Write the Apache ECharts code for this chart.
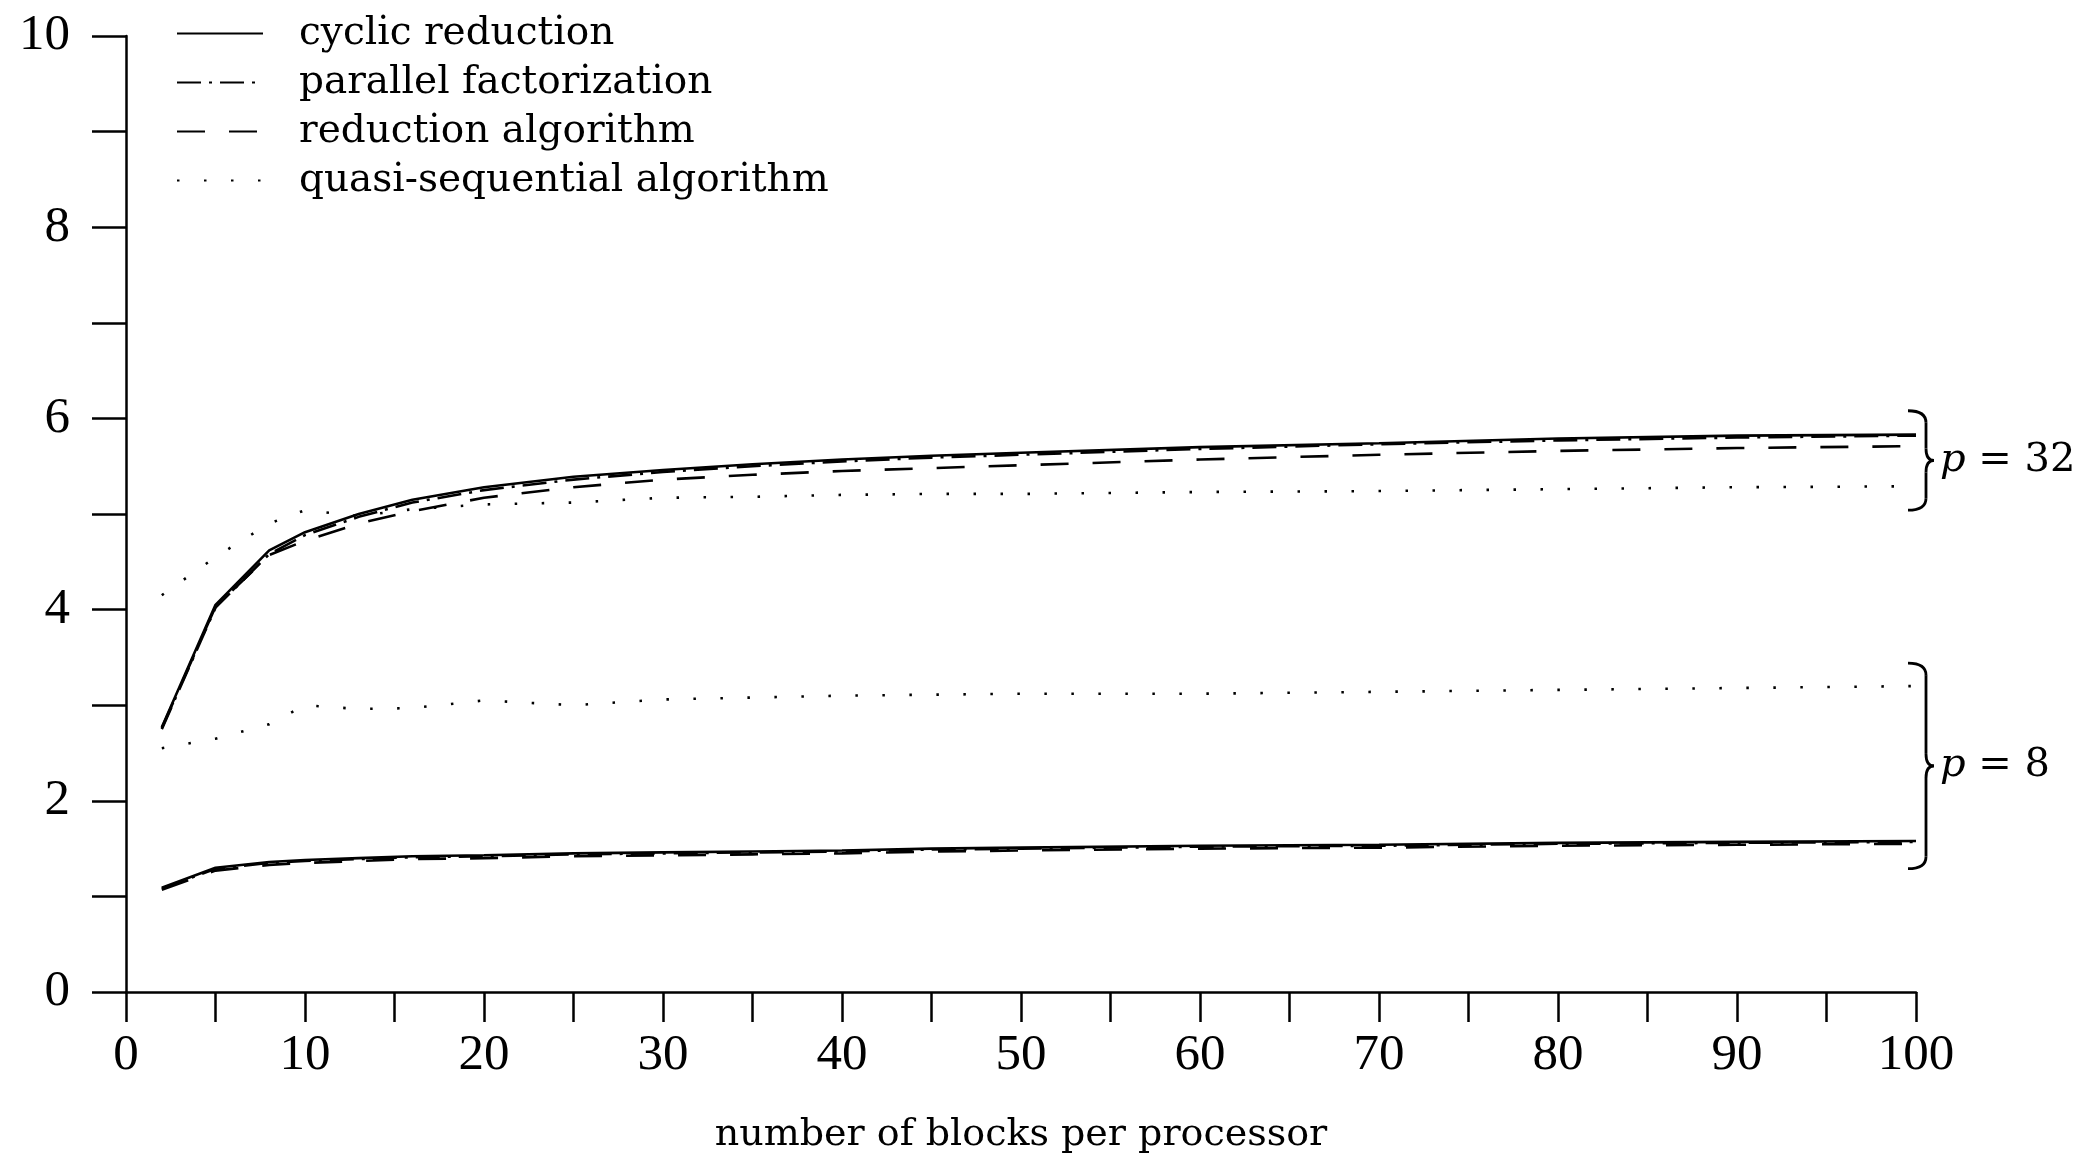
<!DOCTYPE html>
<html>
<head>
<meta charset="utf-8">
<script src="https://cdn.jsdelivr.net/npm/echarts@6/dist/echarts.min.js"></script>
<style>
  html, body { margin: 0; padding: 0; background: #fff; }
  #chart { width: 2079px; height: 1166px; }
</style>
</head>
<body>
<div id="chart"></div>
<script>
// blocks per processor (x positions of the samples)
const blocks = [2, 5, 8, 10, 13, 16, 20, 25, 30, 35, 40, 45, 50, 60, 70, 80, 90, 100];

// p = 32
const cyclic32    = [2.77, 4.05, 4.62, 4.81, 5.00, 5.15, 5.28, 5.39, 5.46, 5.52, 5.57, 5.61, 5.64, 5.70, 5.74, 5.79, 5.82, 5.83];
const parallel32  = [2.75, 4.02, 4.58, 4.78, 4.97, 5.12, 5.25, 5.36, 5.44, 5.50, 5.55, 5.59, 5.62, 5.68, 5.73, 5.77, 5.80, 5.82];
const reduction32 = [2.76, 4.03, 4.57, 4.72, 4.90, 5.03, 5.17, 5.28, 5.36, 5.41, 5.45, 5.48, 5.51, 5.57, 5.62, 5.66, 5.69, 5.71];
const quasi32     = [4.15, 4.55, 4.90, 5.04, 4.98, 5.05, 5.10, 5.12, 5.17, 5.18, 5.20, 5.21, 5.21, 5.23, 5.24, 5.26, 5.28, 5.29];

// p = 8
const cyclic8    = [1.09, 1.30, 1.36, 1.38, 1.40, 1.42, 1.43, 1.45, 1.46, 1.47, 1.48, 1.50, 1.51, 1.53, 1.54, 1.56, 1.57, 1.58];
const parallel8  = [1.08, 1.29, 1.35, 1.37, 1.39, 1.41, 1.42, 1.44, 1.45, 1.46, 1.47, 1.49, 1.50, 1.52, 1.53, 1.55, 1.56, 1.57];
const reduction8 = [1.07, 1.27, 1.33, 1.35, 1.37, 1.39, 1.40, 1.42, 1.43, 1.44, 1.45, 1.47, 1.48, 1.50, 1.51, 1.53, 1.54, 1.55];
const quasi8     = [2.55, 2.65, 2.80, 3.00, 2.96, 2.97, 3.05, 3.00, 3.06, 3.08, 3.10, 3.11, 3.12, 3.12, 3.14, 3.16, 3.18, 3.20];

const names = ['cyclic reduction', 'parallel factorization', 'reduction algorithm', 'quasi-sequential algorithm'];
const xTicks = { min: 0, max: 100, step: 5 };
const yTicks = { min: 0, max: 10, step: 1 };

// brace annotations: [top, bottom] in data units
const brace32 = [6.08, 5.04];
const brace8 = [3.44, 1.29];

const FONT = 'DejaVu Serif';
const NUMFONT = 'Liberation Serif';
const dashes = {
  'cyclic reduction': 'solid',
  'parallel factorization': [24, 8, 3, 8],
  'reduction algorithm': [28, 24],
  'quasi-sequential algorithm': [2.5, 24.5]
};

function line(name, ys) {
  return {
    type: 'line',
    name: name,
    data: blocks.map((x, i) => [x, ys[i]]),
    symbol: 'none',
    animation: false,
    itemStyle: { color: '#000' },
    lineStyle: { color: '#000', width: 2.6, type: dashes[name], cap: 'butt' }
  };
}

const chart = echarts.init(document.getElementById('chart'));

chart.setOption({
  backgroundColor: '#fff',
  animation: false,
  grid: { left: 126, right: 163, top: 36, bottom: 174 },
  legend: {
    data: names,
    orient: 'vertical',
    left: 171,
    top: 8,
    itemWidth: 86,
    itemHeight: 14,
    itemGap: 8,
    selectedMode: false,
    itemStyle: { opacity: 0 },
    textStyle: { fontFamily: FONT, fontSize: 39, color: '#000', padding: [0, 0, 0, 31], lineHeight: 41 }
  },
  xAxis: {
    type: 'value',
    min: xTicks.min,
    max: xTicks.max,
    interval: xTicks.step,
    name: 'number of blocks per processor',
    nameLocation: 'middle',
    nameGap: 124,
    nameTextStyle: { fontFamily: FONT, fontSize: 38, color: '#000' },
    axisLine: { lineStyle: { color: '#000', width: 2.5 } },
    axisTick: { length: 30, lineStyle: { color: '#000', width: 2.5 } },
    axisLabel: {
      margin: 38,
      fontFamily: NUMFONT,
      fontSize: 51,
      color: '#000',
      formatter: v => (v % 10 === 0 ? String(v) : '')
    },
    splitLine: { show: false }
  },
  yAxis: {
    type: 'value',
    min: yTicks.min,
    max: yTicks.max,
    interval: yTicks.step,
    axisLine: { show: true, lineStyle: { color: '#000', width: 2.5 } },
    axisTick: { show: true, length: 34, lineStyle: { color: '#000', width: 2.5 } },
    axisLabel: {
      margin: 56,
      fontFamily: NUMFONT,
      fontSize: 51,
      color: '#000',
      formatter: v => (v % 2 === 0 ? String(v) : '')
    },
    splitLine: { show: false }
  },
  series: [
    line(names[0], cyclic32),
    line(names[1], parallel32),
    line(names[2], reduction32),
    line(names[3], quasi32),
    line(names[0], cyclic8),
    line(names[1], parallel8),
    line(names[2], reduction8),
    line(names[3], quasi8)
  ]
});

// curly braces with their labels, right of the curve ends
function brace(range, label) {
  const top = chart.convertToPixel({ gridIndex: 0 }, [100, range[0]]);
  const bot = chart.convertToPixel({ gridIndex: 0 }, [100, range[1]]);
  const x0 = top[0] - 8;
  const xs = x0 + 18;
  const xt = x0 + 26;
  const yt = top[1];
  const yb = bot[1];
  const ym = (yt + yb) / 2;
  const r = 12;
  const st = { stroke: '#000', lineWidth: 2.8, fill: null };
  const curve = (x1, y1, cx, cy, x2, y2) => ({
    type: 'bezierCurve',
    shape: { x1: x1, y1: y1, cpx1: cx, cpy1: cy, x2: x2, y2: y2 },
    style: st
  });
  const seg = (x1, y1, x2, y2) => ({
    type: 'line',
    shape: { x1: x1, y1: y1, x2: x2, y2: y2 },
    style: st
  });
  return [
    curve(x0, yt, xs, yt, xs, yt + r),
    seg(xs, yt + r, xs, ym - r),
    curve(xs, ym - r, xs, ym, xt, ym),
    curve(xt, ym, xs, ym, xs, ym + r),
    seg(xs, ym + r, xs, yb - r),
    curve(xs, yb - r, xs, yb, x0, yb),
    {
      type: 'text',
      x: xt + 6,
      y: ym,
      style: {
        text: '{i|p} = ' + label,
        fontFamily: FONT,
        fontSize: 40,
        fill: '#000',
        verticalAlign: 'middle',
        rich: { i: { fontStyle: 'italic', fontFamily: FONT, fontSize: 40 } }
      }
    }
  ];
}

chart.setOption({
  graphic: [].concat(brace(brace32, '32'), brace(brace8, '8'))
});
</script>
</body>
</html>
